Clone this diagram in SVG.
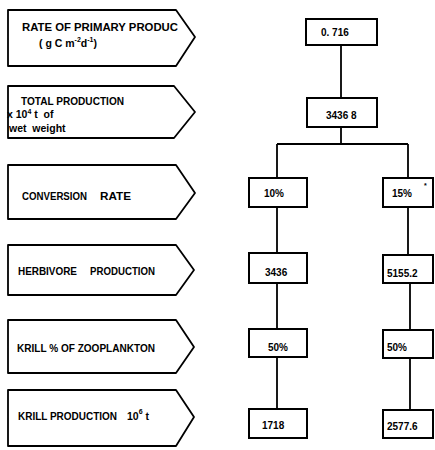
<svg xmlns="http://www.w3.org/2000/svg" width="435" height="450" viewBox="0 0 435 450">
<style>
.lbl{fill:#fff;stroke:#000;stroke-width:1.8;stroke-linejoin:round}
.box{fill:#fff;stroke:#000;stroke-width:2}
.t{font-family:"Liberation Sans",Arial,sans-serif;font-weight:bold;font-size:10.5px;fill:#000}
.n{font-family:"Liberation Sans",Arial,sans-serif;font-weight:bold;font-size:10px;fill:#000}
.sup{font-size:7px}
.conn{fill:none;stroke:#000;stroke-width:1.8}
</style>
<rect width="435" height="450" fill="#fff"/>
<g id="labels">
<g id="lbl-rate">
<path class="lbl" d="M8,10 L176,10 L195,37 L176,66 L8,66 Z"/>
<text class="t" x="22" y="31" textLength="156" lengthAdjust="spacingAndGlyphs">RATE OF PRIMARY PRODUC</text>
<text class="t" x="39" y="47">( g C m<tspan class="sup" dy="-5">-2</tspan><tspan dy="5">d</tspan><tspan class="sup" dy="-5">-1</tspan><tspan dy="5">)</tspan></text>
</g>
<g id="lbl-total">
<path class="lbl" d="M8,86 L174,86 L195,112 L174,138 L8,138 Z"/>
<text class="t" x="21" y="105" textLength="103" lengthAdjust="spacingAndGlyphs">TOTAL PRODUCTION</text>
<text class="t" x="7" y="118">x 10<tspan class="sup" dy="-4">4</tspan><tspan dy="4" xml:space="preserve"> t  of</tspan></text>
<text class="t" x="9" y="132" xml:space="preserve">wet  weight</text>
</g>
<g id="lbl-conv">
<path class="lbl" d="M8,165 L176,165 L195,193 L176,219 L8,219 Z"/>
<text class="t" x="22" y="200" textLength="65" lengthAdjust="spacingAndGlyphs">CONVERSION</text>
<text class="t" x="100" y="200" textLength="31" lengthAdjust="spacingAndGlyphs">RATE</text>
</g>
<g id="lbl-herb">
<path class="lbl" d="M8,245 L176,245 L194,270 L176,295 L8,295 Z"/>
<text class="t" x="18" y="275" textLength="59" lengthAdjust="spacingAndGlyphs">HERBIVORE</text>
<text class="t" x="90" y="275" textLength="65" lengthAdjust="spacingAndGlyphs">PRODUCTION</text>
</g>
<g id="lbl-krillpct">
<path class="lbl" d="M8,320 L176,320 L194,347 L176,373 L8,373 Z"/>
<text class="t" x="17" y="352" textLength="138" lengthAdjust="spacingAndGlyphs">KRILL % OF ZOOPLANKTON</text>
</g>
<g id="lbl-krillprod">
<path class="lbl" d="M8,390 L176,390 L194,417 L176,446 L8,446 Z"/>
<text class="t" x="18" y="420" textLength="99" lengthAdjust="spacingAndGlyphs">KRILL PRODUCTION</text>
<text class="t" x="127" y="420">10<tspan class="sup" dy="-6">6</tspan><tspan dy="6"> t</tspan></text>
</g>
</g>
<g id="connectors">
<path class="conn" d="M341,45 V98"/>
<path class="conn" d="M341,127 V144 M277,144 H408"/>
<path class="conn" d="M277,144 V178 M277,207 V253 M277,283 V329 M277,357 V409"/>
<path class="conn" d="M408,144 V178 M408,207 V255 M410,283 V330 M410,358 V410"/>
</g>
<g id="boxes">
<g id="b-0716"><rect class="box" x="306" y="19" width="71" height="26"/><text class="n" x="321" y="36">0. 716</text></g>
<g id="b-34368"><rect class="box" x="307" y="98" width="70" height="29"/><text class="n" x="326" y="119">3436 8</text></g>
<g id="b-10"><rect class="box" x="249" y="178" width="58" height="29"/><text class="n" x="264" y="197">10%</text></g>
<g id="b-15"><rect class="box" x="383" y="178" width="50" height="29"/><text class="n" x="392" y="197">15%</text><text class="n sup" x="424" y="188">*</text></g>
<g id="b-3436"><rect class="box" x="249" y="253" width="58" height="30"/><text class="n" x="265" y="276">3436</text></g>
<g id="b-51552"><rect class="box" x="383" y="255" width="50" height="28"/><text class="n" x="387" y="277">5155.2</text></g>
<g id="b-50a"><rect class="box" x="249" y="329" width="58" height="28"/><text class="n" x="268" y="351">50%</text></g>
<g id="b-50b"><rect class="box" x="383" y="330" width="50" height="28"/><text class="n" x="387" y="351">50%</text></g>
<g id="b-1718"><rect class="box" x="249" y="409" width="58" height="29"/><text class="n" x="262" y="429">1718</text></g>
<g id="b-25776"><rect class="box" x="383" y="410" width="50" height="28"/><text class="n" x="387" y="430">2577.6</text></g>
</g>
</svg>
